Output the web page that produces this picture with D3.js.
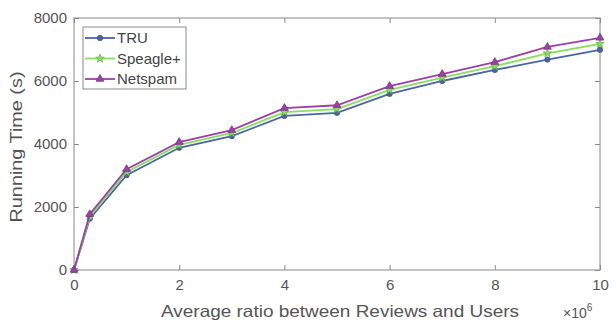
<!DOCTYPE html>
<html>
<head>
<meta charset="utf-8">
<script src="https://cdn.jsdelivr.net/npm/d3@7"></script>
<style>
  body { margin: 0; background: #fff; }
  text { font-family: "Liberation Sans", Arial, sans-serif; }
</style>
</head>
<body>
<div id="chart"></div>
<script>
// ratio values (x 10^6)
var ratios = [0, 0.3, 1, 2, 3, 4, 5, 6, 7, 8, 9, 10];
// running time in seconds
var tru      = [0, 1630, 3010, 3880, 4250, 4890, 4990, 5590, 6000, 6350, 6680, 6990];
var speagle  = [0, 1700, 3110, 3970, 4350, 5010, 5110, 5720, 6110, 6470, 6880, 7180];
var netspam  = [0, 1770, 3200, 4060, 4440, 5140, 5230, 5840, 6220, 6600, 7080, 7370];
var xTicks = [0, 2, 4, 6, 8, 10];
var yTicks = [0, 2000, 4000, 6000, 8000];

var series = [
  {name: "TRU", values: tru, color: "#4a64a8", marker: "circle"},
  {name: "Speagle+", values: speagle, color: "#86e05c", marker: "star"},
  {name: "Netspam", values: netspam, color: "#9c3fa8", marker: "triangle"}
];

var W = 616, H = 322;
var margin = {top: 18, right: 16, bottom: 52, left: 74},
    width = W - margin.left - margin.right,
    height = H - margin.top - margin.bottom;

var svg = d3.select("#chart").append("svg")
    .attr("width", W)
    .attr("height", H)
  .append("g")
    .attr("transform", "translate(" + margin.left + "," + margin.top + ")");

var x = d3.scaleLinear().domain([0, 10]).range([0, width]);
var y = d3.scaleLinear().domain([0, 8000]).range([height, 0]);

var axisColor = "#8a8a8a", textColor = "#555";

// box
svg.append("rect")
  .attr("width", width).attr("height", height)
  .attr("fill", "none").attr("stroke", axisColor).attr("stroke-width", 1);

// axes with inward ticks
var xAxis = svg.append("g").attr("transform", "translate(0," + height + ")")
  .call(d3.axisBottom(x).tickValues(xTicks).tickSize(-5).tickPadding(9).tickFormat(d3.format("d")));
var xTop = svg.append("g")
  .call(d3.axisTop(x).tickValues(xTicks).tickSize(-5).tickFormat(""));
var yAxis = svg.append("g")
  .call(d3.axisLeft(y).tickValues(yTicks).tickSize(-5).tickPadding(7).tickFormat(d3.format("d")));
var yRight = svg.append("g").attr("transform", "translate(" + width + ",0)")
  .call(d3.axisRight(y).tickValues(yTicks).tickSize(-5).tickFormat(""));

[xAxis, xTop, yAxis, yRight].forEach(function(a) {
  a.select(".domain").remove();
  a.selectAll("line").attr("stroke", axisColor);
  a.selectAll("text").attr("fill", textColor).style("font-size", "15px")
    .style("font-family", "'Liberation Sans', Arial, sans-serif");
});

// labels
svg.append("text")
  .attr("x", width / 2 + 3).attr("y", height + 47)
  .attr("text-anchor", "middle").attr("fill", textColor)
  .style("font-size", "16.5px")
  .attr("textLength", 358).attr("lengthAdjust", "spacingAndGlyphs")
  .text("Average ratio between Reviews and Users");

var exp = svg.append("text")
  .attr("x", width - 37).attr("y", height + 48)
  .attr("fill", textColor).style("font-size", "14px");
exp.append("tspan").text("\u00d710");
exp.append("tspan").attr("dy", -7).style("font-size", "10px").text("6");

svg.append("text")
  .attr("transform", "rotate(-90)")
  .attr("x", -(147 - margin.top)).attr("y", -52)
  .attr("text-anchor", "middle").attr("fill", textColor)
  .style("font-size", "17px")
  .attr("textLength", 151).attr("lengthAdjust", "spacingAndGlyphs")
  .text("Running Time (s)");

var line = d3.line()
  .x(function(d, i) { return x(ratios[i]); })
  .y(function(d) { return y(d); });

function symbolFor(m) {
  if (m === "circle") return d3.symbol().type(d3.symbolCircle).size(22);
  if (m === "star") return d3.symbol().type(d3.symbolStar).size(22);
  return d3.symbol().type(d3.symbolTriangle).size(26);
}

series.forEach(function(s) {
  svg.append("path")
    .datum(s.values)
    .attr("fill", "none")
    .attr("stroke", s.color)
    .attr("stroke-width", 1.8)
    .attr("d", line);

  svg.selectAll(".m-" + s.marker)
    .data(s.values)
    .enter().append("path")
    .attr("class", "m-" + s.marker)
    .attr("transform", function(d, i) { return "translate(" + x(ratios[i]) + "," + y(d) + ")"; })
    .attr("d", symbolFor(s.marker)())
    .attr("fill", s.color)
    .attr("stroke", d3.color(s.color).darker(0.6))
    .attr("stroke-width", 0.8);
});

// legend
var lg = svg.append("g").attr("transform", "translate(9,9)");
lg.append("rect")
  .attr("width", 103).attr("height", 62)
  .attr("fill", "#fff").attr("stroke", axisColor).attr("stroke-width", 1);

series.forEach(function(s, i) {
  var yy = 11 + i * 20.5;
  lg.append("line")
    .attr("x1", 2).attr("x2", 32).attr("y1", yy).attr("y2", yy)
    .attr("stroke", s.color).attr("stroke-width", 1.8);
  lg.append("path")
    .attr("transform", "translate(17," + yy + ")")
    .attr("d", symbolFor(s.marker)())
    .attr("fill", s.color)
    .attr("stroke", d3.color(s.color).darker(0.6))
    .attr("stroke-width", 0.8);
  lg.append("text")
    .attr("x", 34).attr("y", yy + 5)
    .attr("fill", "#444")
    .style("font-size", "15px")
    .text(s.name);
});
</script>
</body>
</html>
